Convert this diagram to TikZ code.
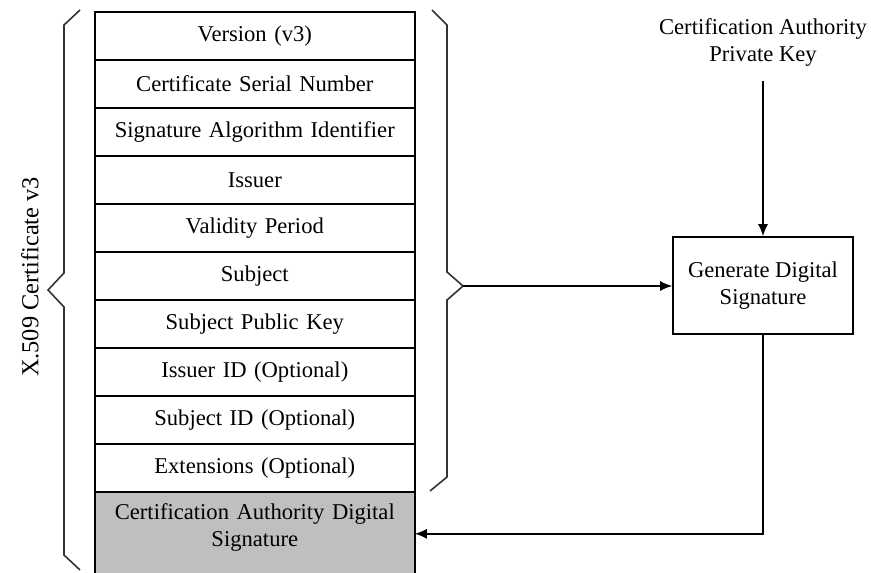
\documentclass[tikz,border=0pt]{standalone}
\usepackage{fontspec}
\setmainfont{Liberation Serif}
\usetikzlibrary{positioning,matrix,arrows.meta}
\definecolor{sigfill}{RGB}{191,191,191}
\tikzset{
cert/.style={
  matrix of nodes,
  line width=0.8pt,
  inner sep=0pt,
  outer sep=0pt,
  row sep=-\pgflinewidth,
  nodes={draw,rectangle,text width=150pt,inner xsep=5pt,inner ysep=0pt,
    align=center,minimum height=24pt},
  },
sigcell/.style={fill=sigfill,minimum height=42pt},
brace/.style={draw=black!80,line width=0.8pt},
flow/.style={-{Latex[length=6pt,width=5pt]},line width=0.8pt},
%box/.style={draw,line width=0.8pt}
}

\begin{document}
\begin{tikzpicture}[x=1pt,y=1pt,every node/.style={font=\fontsize{11.3pt}{13.5pt}\selectfont}]
    \useasboundingbox (0,0) rectangle (435.5,-286);

    \matrix [cert,anchor=north west] (fields) at (47,-5.5)
    {
        Version (v3) \\
        Certificate Serial Number \\
        Signature Algorithm Identifier \\
        Issuer \\
        Validity Period \\
        Subject \\
        Subject Public Key \\
        Issuer ID (Optional) \\
        Subject ID (Optional) \\
        Extensions (Optional) \\
        |[sigcell]| {Certification Authority Digital\\Signature\vspace{6pt}} \\
    };

    % braces
    \draw [brace] (40,-5) -- (32,-12.5) -- (32,-136.5) -- (24,-145) -- (32,-153.5) -- (32,-277.5) -- (40,-285);
    \draw [brace] (216,-5) -- (223.5,-12.5) -- (223.5,-136) -- (231.5,-143) coordinate (tip)
        -- (223.5,-150) -- (223.5,-238.5) -- (215,-245.5);
    \node [rotate=90,font=\fontsize{12.2pt}{14pt}\selectfont] (title) at (15,-138.5) {X.509 Certificate v3};

    \node [draw,line width=0.8pt,minimum width=90pt,minimum height=48.5pt,align=center] (gen) at (381.5,-142.75) {Generate Digital\\Signature};
    \node [align=center] (key) at (381.5,-21) {Certification Authority\\Private Key};

    \draw [flow,shorten <=4pt] (key) -- (gen);
    \draw [flow] (tip) -- (tip -| gen.west);
    \draw [flow] (gen.south) |- (fields-11-1.east);
\end{tikzpicture}
\end{document}
